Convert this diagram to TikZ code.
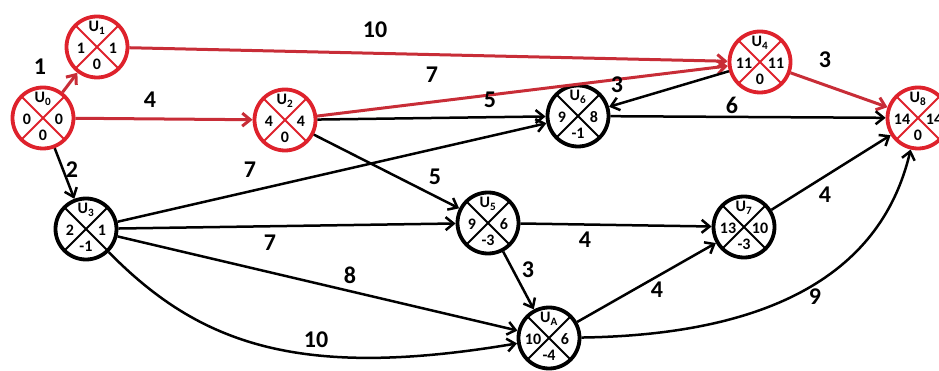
\documentclass[tikz,border=0pt]{standalone}
\usepackage{fontspec}
\setmainfont{Carlito}
\usetikzlibrary{arrows.meta,calc}
\definecolor{nred}{RGB}{222,34,44}
\definecolor{ered}{RGB}{200,45,55}
\tikzset{
  evblack/.style={circle, draw=black, line width=3.8pt, minimum size=61pt, inner sep=0pt,
    path picture={\draw[black,line width=1.8pt]
      (path picture bounding box.north west) -- (path picture bounding box.south east)
      (path picture bounding box.north east) -- (path picture bounding box.south west);}},
  evred/.style={circle, draw=nred, line width=3.8pt, minimum size=61pt, inner sep=0pt,
    path picture={\draw[nred,line width=1.8pt]
      (path picture bounding box.north west) -- (path picture bounding box.south east)
      (path picture bounding box.north east) -- (path picture bounding box.south west);}},
  inl/.style={font=\fontsize{16}{16}\selectfont\bfseries, inner sep=0pt},
  elab/.style={font=\fontsize{24}{24}\selectfont\bfseries, inner sep=0pt},
  edg/.style={draw=black, line width=2.5pt, -{Straight Barb[length=8pt,width=13pt]}},
  redg/.style={draw=ered, line width=3pt, -{Straight Barb[length=8pt,width=13pt]}},
}
\newcommand{\evn}[8]{%
  \node[#2] (#1) at (#3,#4) {};
  \node[inl] (#1t) at ($(#1)+(0,-19)$) {#5};
  \node[inl] (#1l) at ($(#1)+(-16,1)$) {#6};
  \node[inl] (#1r) at ($(#1)+(16,1)$) {#7};
  \node[inl] (#1b) at ($(#1)+(0,17)$) {#8};
}
\begin{document}
\begin{tikzpicture}[x=1pt,y=-1pt]
\useasboundingbox (0,0) rectangle (939,371);
\clip (0,0) rectangle (939,371);
\evn{U0}{evred}{43}{118}{U\textsubscript{0}}{0}{0}{0}
\evn{U1}{evred}{97}{47}{U\textsubscript{1}}{1}{1}{0}
\evn{U2}{evred}{285}{120}{U\textsubscript{2}}{4}{4}{0}
\evn{U3}{evblack}{86}{229}{U\textsubscript{3}}{2}{1}{-1}
\evn{U4}{evred}{760}{62}{U\textsubscript{4}}{11}{11}{0}
\evn{U5}{evblack}{488}{223}{U\textsubscript{5}}{9}{6}{-3}
\evn{U6}{evblack}{578}{116}{U\textsubscript{6}}{9}{8}{-1}
\evn{U7}{evblack}{744}{227}{U\textsubscript{7}}{13}{10}{-3}
\evn{U8}{evred}{918}{118}{U\textsubscript{8}}{14}{14}{0}
\evn{UA}{evblack}{549}{338}{U\textsubscript{A}}{10}{6}{-4}

% red edges
\draw[redg] (U0) -- (U1);
\draw[redg] (U0) -- (U2);
\draw[redg] (U1) -- (U4);
\draw[redg] (U2) -- (U4);
\draw[redg] (U4) -- (U8);
% black edges
\draw[edg] (U0) -- (U3);
\draw[edg] (U2) -- (U6);
\draw[edg] (U2) -- (U5);
\draw[edg] (U3) -- (U6);
\draw[edg] (U3) -- (U5);
\draw[edg] (U3) -- (UA);
\draw[edg] (U3) .. controls (200,345) and (300,380) .. (UA);
\draw[edg] (U4) -- (U6);
\draw[edg] (U6) -- (U8);
\draw[edg] (U5) -- (U7);
\draw[edg] (U5) -- (UA);
\draw[edg] (UA) -- (U7);
\draw[edg] (U7) -- (U8);
\draw[edg] (UA) .. controls (760,335) and (880,280) .. (U8);

% edge labels
\node[elab] (l01) at (40,67) {1};
\node[elab] (l02) at (150,100) {4};
\node[elab] (l14) at (375,30) {10};
\node[elab] (l24) at (432,75) {7};
\node[elab] (l48) at (825,60) {3};
\node[elab] (l03) at (72,170) {2};
\node[elab] (l26) at (490,100) {5};
\node[elab] (l25) at (435,177) {5};
\node[elab] (l36) at (250,170) {7};
\node[elab] (l35) at (270,243) {7};
\node[elab] (l3A) at (350,275) {8};
\node[elab] (l3Ac) at (316,340) {10};
\node[elab] (l46) at (617,85) {3};
\node[elab] (l68) at (732,105) {6};
\node[elab] (l57) at (585,240) {4};
\node[elab] (l5A) at (528,270) {3};
\node[elab] (lA7) at (657,290) {4};
\node[elab] (l78) at (825,195) {4};
\node[elab] (lA8) at (815,297) {9};
\end{tikzpicture}
\end{document}
